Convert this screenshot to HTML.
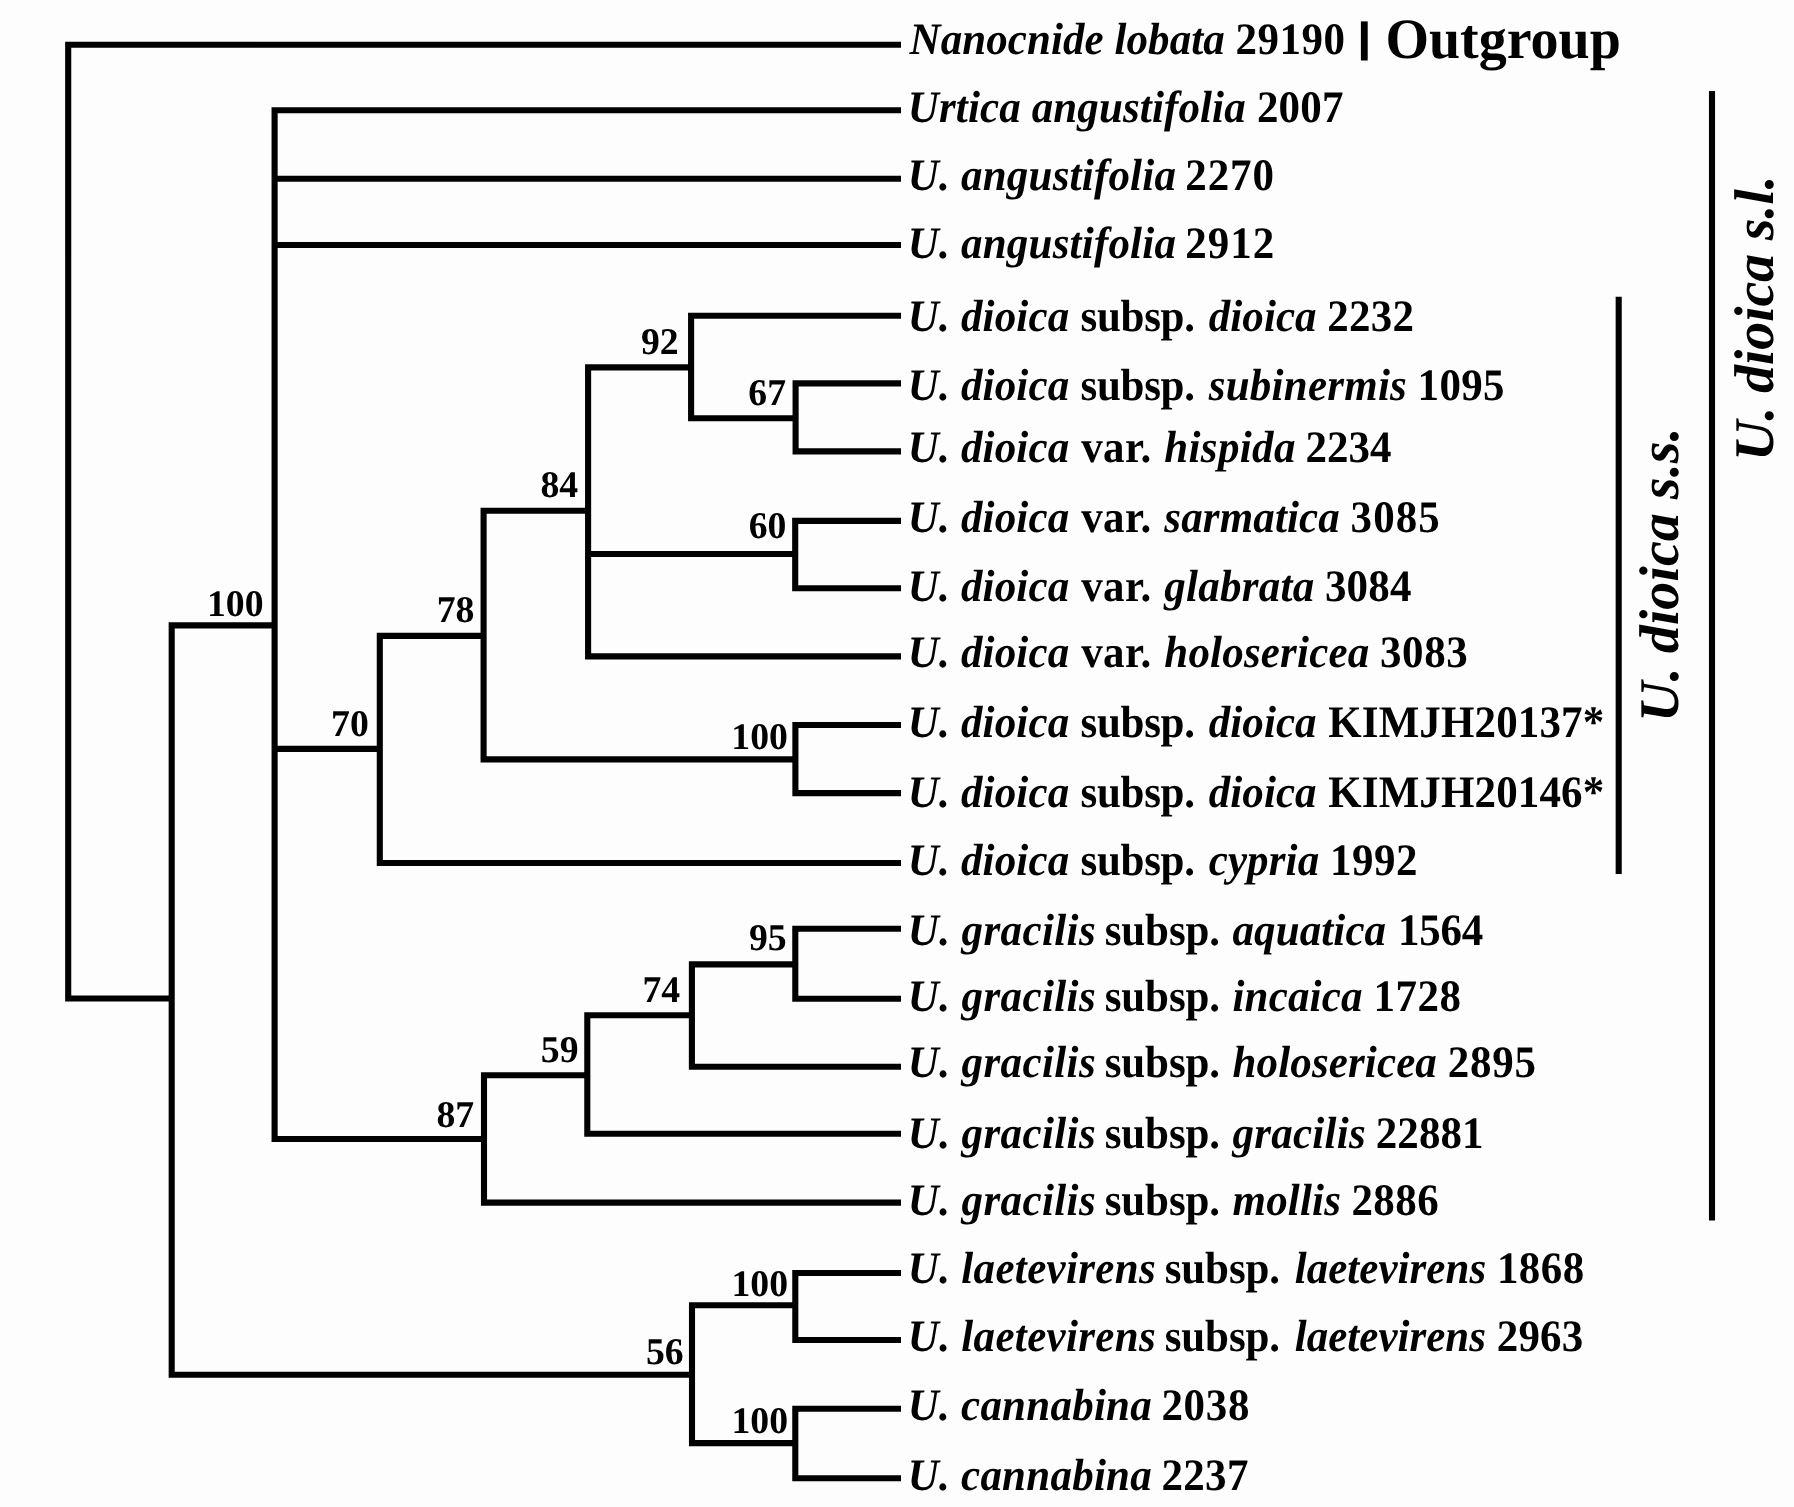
<!DOCTYPE html>
<html><head><meta charset="utf-8"><title>Urtica phylogeny</title>
<style>
html,body{margin:0;padding:0;background:#fdfdfd;}
body{width:1794px;height:1507px;overflow:hidden;}
svg{display:block;opacity:0.999;will-change:transform;}
text{font-family:"Liberation Serif",serif;font-weight:bold;fill:#000;font-variant-ligatures:none;text-rendering:geometricPrecision;}
.i{font-style:italic;}
.t{font-size:45px;}
.n{font-size:37.7px;text-anchor:end;}
.g{font-size:56px;}
</style></head><body>
<svg width="1794" height="1507" viewBox="0 0 1794 1507">
<rect x="0" y="0" width="1794" height="1507" fill="#fdfdfd"/>
<path fill="#000" fill-rule="nonzero" d="M65.15 41.65h835.85v6.10h-835.85zM271.55 107.25h629.45v6.10h-629.45zM271.55 175.65h629.45v6.10h-629.45zM271.55 241.95h629.45v6.10h-629.45zM376.75 859.95h524.25v6.10h-524.25zM585.05 653.35h315.95v6.10h-315.95zM688.05 312.65h212.95v6.10h-212.95zM792.55 380.35h108.45v6.10h-108.45zM792.55 448.35h108.45v6.10h-108.45zM792.15 517.85h108.85v6.10h-108.85zM792.15 585.15h108.85v6.10h-108.85zM792.35 721.95h108.65v6.10h-108.65zM792.35 790.05h108.65v6.10h-108.65zM480.95 1199.55h420.05v6.10h-420.05zM584.25 1130.75h316.75v6.10h-316.75zM688.85 1063.75h212.15v6.10h-212.15zM792.25 925.75h108.75v6.10h-108.75zM792.25 995.65h108.75v6.10h-108.75zM792.25 1269.95h108.75v6.10h-108.75zM792.25 1336.95h108.75v6.10h-108.75zM792.25 1405.75h108.75v6.10h-108.75zM792.25 1475.15h108.75v6.10h-108.75zM65.15 995.45h109.60v6.10h-109.60zM168.65 622.35h109.00v6.10h-109.00zM168.65 1371.75h526.40v6.10h-526.40zM271.55 745.85h111.30v6.10h-111.30zM271.55 1135.95h215.50v6.10h-215.50zM376.75 632.85h109.90v6.10h-109.90zM480.55 507.75h110.60v6.10h-110.60zM480.55 756.35h317.90v6.10h-317.90zM585.05 364.35h109.10v6.10h-109.10zM585.05 550.95h213.20v6.10h-213.20zM688.05 415.15h110.60v6.10h-110.60zM480.95 1072.25h109.40v6.10h-109.40zM584.25 1012.25h110.70v6.10h-110.70zM688.85 961.35h109.50v6.10h-109.50zM688.95 1302.25h109.40v6.10h-109.40zM688.95 1440.05h109.40v6.10h-109.40zM65.15 41.65h6.10v959.90h-6.10zM168.65 622.35h6.10v755.50h-6.10zM271.55 107.25h6.10v1034.80h-6.10zM376.75 632.85h6.10v233.20h-6.10zM480.55 507.75h6.10v254.70h-6.10zM585.05 364.35h6.10v295.10h-6.10zM688.05 312.65h6.10v108.60h-6.10zM792.55 380.35h6.10v74.10h-6.10zM792.15 517.85h6.10v73.40h-6.10zM792.35 721.95h6.10v74.20h-6.10zM480.95 1072.25h6.10v133.40h-6.10zM584.25 1012.25h6.10v124.60h-6.10zM688.85 961.35h6.10v108.50h-6.10zM792.25 925.75h6.10v76.00h-6.10zM688.95 1302.25h6.10v143.90h-6.10zM792.25 1269.95h6.10v73.10h-6.10zM792.25 1405.75h6.10v75.50h-6.10zM1615.65 296.70h6.10v577.30h-6.10zM1708.95 90.90h6.10v1129.70h-6.10z"/>
<text class="t" transform="matrix(0.95556 0 0 1 0 0)" y="54.2"><tspan class="i" x="951.91" style="letter-spacing:0.070px">Nanocnide lobata</tspan><tspan x="1292.97" style="letter-spacing:0.523px">29190</tspan></text>
<text class="t" transform="matrix(0.95556 0 0 1 0 0)" y="121.8"><tspan class="i" x="950.02" style="letter-spacing:0.128px">Urtica angustifolia</tspan><tspan x="1315.36" style="letter-spacing:0.209px">2007</tspan></text>
<text class="t" transform="matrix(0.95556 0 0 1 0 0)" y="190.1"><tspan class="i" x="950.02" style="letter-spacing:0.217px">U. angustifolia</tspan><tspan x="1240.33" style="letter-spacing:0.977px">2270</tspan></text>
<text class="t" transform="matrix(0.95556 0 0 1 0 0)" y="257.6"><tspan class="i" x="950.02" style="letter-spacing:0.217px">U. angustifolia</tspan><tspan x="1240.33" style="letter-spacing:1.047px">2912</tspan></text>
<text class="t" transform="matrix(0.95556 0 0 1 0 0)" y="330.5"><tspan class="i" x="950.02" style="letter-spacing:0.183px">U. dioica</tspan><tspan x="1130.86" style="letter-spacing:-0.335px">subsp.</tspan><tspan class="i" x="1264.92" style="letter-spacing:0.084px">dioica</tspan><tspan x="1388.93" style="letter-spacing:0.314px">2232</tspan></text>
<text class="t" transform="matrix(0.95556 0 0 1 0 0)" y="399.8"><tspan class="i" x="950.02" style="letter-spacing:0.183px">U. dioica</tspan><tspan x="1130.86" style="letter-spacing:-0.335px">subsp.</tspan><tspan class="i" x="1264.92" style="letter-spacing:0.254px">subinermis</tspan><tspan x="1483.53" style="letter-spacing:0.349px">1095</tspan></text>
<text class="t" transform="matrix(0.95556 0 0 1 0 0)" y="461.8"><tspan class="i" x="950.02" style="letter-spacing:0.183px">U. dioica</tspan><tspan x="1131.49" style="letter-spacing:0.419px">var.</tspan><tspan class="i" x="1218.45" style="letter-spacing:0.366px">hispida</tspan><tspan x="1366.22" style="letter-spacing:0.000px">2234</tspan></text>
<text class="t" transform="matrix(0.95556 0 0 1 0 0)" y="531.5"><tspan class="i" x="950.02" style="letter-spacing:0.183px">U. dioica</tspan><tspan x="1131.49" style="letter-spacing:0.419px">var.</tspan><tspan class="i" x="1218.45" style="letter-spacing:0.150px">sarmatica</tspan><tspan x="1413.42" style="letter-spacing:1.081px">3085</tspan></text>
<text class="t" transform="matrix(0.95556 0 0 1 0 0)" y="601.2"><tspan class="i" x="950.02" style="letter-spacing:0.183px">U. dioica</tspan><tspan x="1131.49" style="letter-spacing:0.419px">var.</tspan><tspan class="i" x="1218.45" style="letter-spacing:0.256px">glabrata</tspan><tspan x="1386.52" style="letter-spacing:0.209px">3084</tspan></text>
<text class="t" transform="matrix(0.95556 0 0 1 0 0)" y="666.8"><tspan class="i" x="950.02" style="letter-spacing:0.183px">U. dioica</tspan><tspan x="1131.49" style="letter-spacing:0.419px">var.</tspan><tspan class="i" x="1218.45" style="letter-spacing:0.200px">holosericea</tspan><tspan x="1444.19" style="letter-spacing:0.628px">3083</tspan></text>
<text class="t" transform="matrix(0.95556 0 0 1 0 0)" y="736.5"><tspan class="i" x="950.02" style="letter-spacing:0.183px">U. dioica</tspan><tspan x="1130.86" style="letter-spacing:-0.335px">subsp.</tspan><tspan class="i" x="1264.92" style="letter-spacing:0.084px">dioica</tspan><tspan x="1389.98" style="letter-spacing:0.136px">KIMJH20137*</tspan></text>
<text class="t" transform="matrix(0.95556 0 0 1 0 0)" y="806.5"><tspan class="i" x="950.02" style="letter-spacing:0.183px">U. dioica</tspan><tspan x="1130.86" style="letter-spacing:-0.335px">subsp.</tspan><tspan class="i" x="1264.92" style="letter-spacing:0.084px">dioica</tspan><tspan x="1389.98" style="letter-spacing:0.136px">KIMJH20146*</tspan></text>
<text class="t" transform="matrix(0.95556 0 0 1 0 0)" y="874.6"><tspan class="i" x="950.02" style="letter-spacing:0.183px">U. dioica</tspan><tspan x="1130.86" style="letter-spacing:-0.335px">subsp.</tspan><tspan class="i" x="1264.92" style="letter-spacing:0.124px">cypria</tspan><tspan x="1391.76" style="letter-spacing:0.523px">1992</tspan></text>
<text class="t" transform="matrix(0.95556 0 0 1 0 0)" y="944.5"><tspan class="i" x="950.02" style="letter-spacing:0.408px">U. gracilis</tspan><tspan x="1156.08" style="letter-spacing:-0.126px">subsp.</tspan><tspan class="i" x="1289.83" style="letter-spacing:0.105px">aquatica</tspan><tspan x="1463.02" style="letter-spacing:-0.244px">1564</tspan></text>
<text class="t" transform="matrix(0.95556 0 0 1 0 0)" y="1010.6"><tspan class="i" x="950.02" style="letter-spacing:0.408px">U. gracilis</tspan><tspan x="1156.08" style="letter-spacing:-0.126px">subsp.</tspan><tspan class="i" x="1289.83" style="letter-spacing:0.174px">incaica</tspan><tspan x="1437.49" style="letter-spacing:0.523px">1728</tspan></text>
<text class="t" transform="matrix(0.95556 0 0 1 0 0)" y="1076.6"><tspan class="i" x="950.02" style="letter-spacing:0.408px">U. gracilis</tspan><tspan x="1156.08" style="letter-spacing:-0.126px">subsp.</tspan><tspan class="i" x="1289.83" style="letter-spacing:0.136px">holosericea</tspan><tspan x="1515.14" style="letter-spacing:0.733px">2895</tspan></text>
<text class="t" transform="matrix(0.95556 0 0 1 0 0)" y="1147.8"><tspan class="i" x="950.02" style="letter-spacing:0.408px">U. gracilis</tspan><tspan x="1156.08" style="letter-spacing:-0.126px">subsp.</tspan><tspan class="i" x="1289.83" style="letter-spacing:0.269px">gracilis</tspan><tspan x="1439.79" style="letter-spacing:0.078px">22881</tspan></text>
<text class="t" transform="matrix(0.95556 0 0 1 0 0)" y="1214.5"><tspan class="i" x="950.02" style="letter-spacing:0.408px">U. gracilis</tspan><tspan x="1156.08" style="letter-spacing:-0.126px">subsp.</tspan><tspan class="i" x="1289.83" style="letter-spacing:0.188px">mollis</tspan><tspan x="1414.26" style="letter-spacing:0.453px">2886</tspan></text>
<text class="t" transform="matrix(0.95556 0 0 1 0 0)" y="1283.4"><tspan class="i" x="950.02" style="letter-spacing:0.346px">U. laetevirens</tspan><tspan x="1218.87" style="letter-spacing:-0.126px">subsp.</tspan><tspan class="i" x="1354.92" style="letter-spacing:0.040px">laetevirens</tspan><tspan x="1566.52" style="letter-spacing:0.488px">1868</tspan></text>
<text class="t" transform="matrix(0.95556 0 0 1 0 0)" y="1351.0"><tspan class="i" x="950.02" style="letter-spacing:0.346px">U. laetevirens</tspan><tspan x="1218.87" style="letter-spacing:-0.126px">subsp.</tspan><tspan class="i" x="1354.92" style="letter-spacing:0.030px">laetevirens</tspan><tspan x="1566.42" style="letter-spacing:0.140px">2963</tspan></text>
<text class="t" transform="matrix(0.95556 0 0 1 0 0)" y="1419.6"><tspan class="i" x="950.02" style="letter-spacing:0.247px">U. cannabina</tspan><tspan x="1215.42" style="letter-spacing:0.698px">2038</tspan></text>
<text class="t" transform="matrix(0.95556 0 0 1 0 0)" y="1489.9"><tspan class="i" x="950.02" style="letter-spacing:0.247px">U. cannabina</tspan><tspan x="1215.42" style="letter-spacing:0.349px">2237</tspan></text>
<text class="n" x="263.5" y="615.7">100</text>
<text class="n" x="368.8" y="736.2">70</text>
<text class="n" x="474.4" y="622.3">78</text>
<text class="n" x="578.2" y="496.7">84</text>
<text class="n" x="678.7" y="353.7">92</text>
<text class="n" x="786.0" y="404.8">67</text>
<text class="n" x="786.4" y="538.1">60</text>
<text class="n" x="787.9" y="749.0">100</text>
<text class="n" x="786.6" y="950.4">95</text>
<text class="n" x="680.1" y="1002.2">74</text>
<text class="n" x="578.5" y="1061.7">59</text>
<text class="n" x="474.1" y="1127.1">87</text>
<text class="n" x="788.0" y="1296.1">100</text>
<text class="n" x="683.6" y="1364.4">56</text>
<text class="n" x="788.0" y="1432.5">100</text>
<rect x="1360.9" y="21.4" width="6.8" height="39.1" fill="#000"/>
<text transform="matrix(0.98246 0 0 1 0 0)" x="1410.14" y="57.7" style="font-size:57.0px;letter-spacing:0.000px">Outgroup</text>
<text class="g i" transform="translate(1678.0,721.90) rotate(-90)" style="letter-spacing:0.031px">U. dioica s.s.</text>
<text class="g i" transform="translate(1773.3,461.00) rotate(-90)" style="letter-spacing:-0.169px">U. dioica s.l.</text>
</svg>
</body></html>
